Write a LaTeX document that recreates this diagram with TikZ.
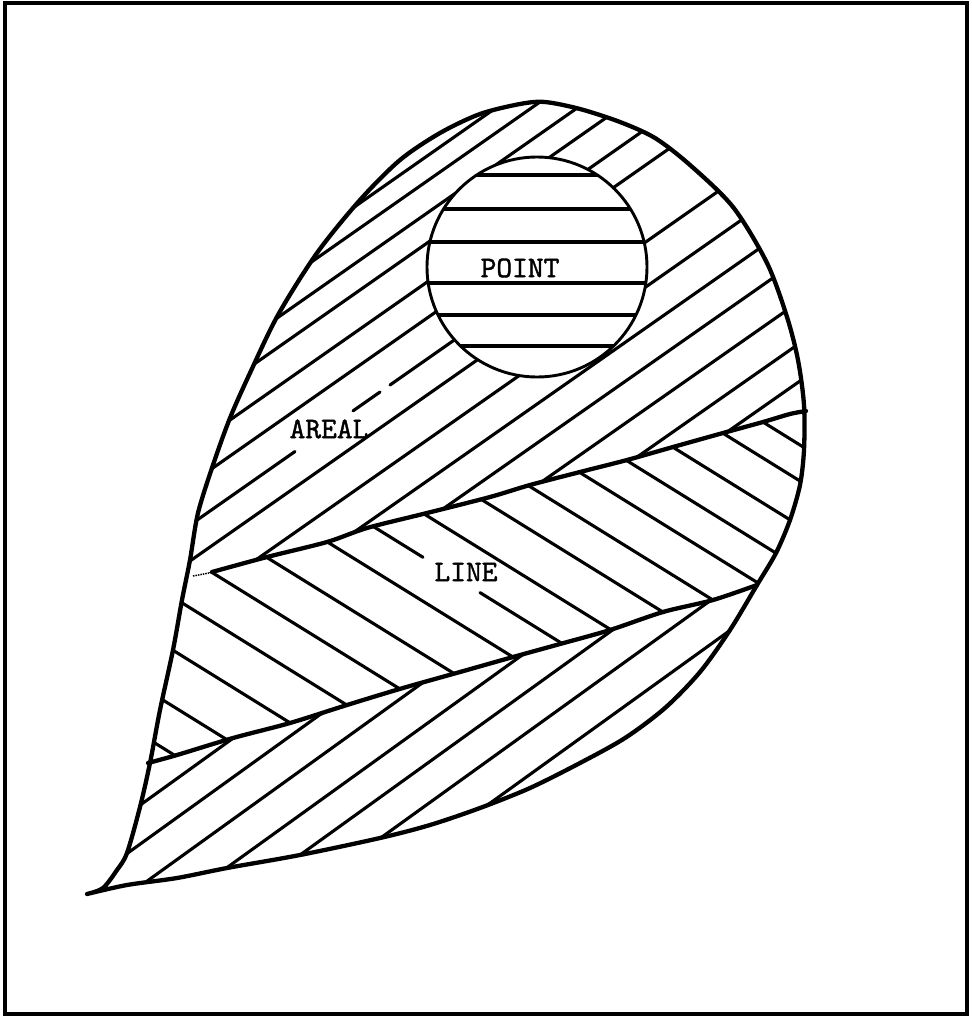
\documentclass[tikz,border=0pt]{standalone}
\usepackage{fontspec}
\newfontfamily\tw[FakeBold=1.3]{lmmono10-regular.otf}
\begin{document}
\begin{tikzpicture}[x=1pt,y=-1pt,
  hatch/.style={line width=3.1pt, line cap=round},
  edge/.style={line width=4.3pt, line join=round, line cap=round},
  frame/.style={line width=4.5pt},
  lbl/.style={font=\tw\fontsize{30}{30}\selectfont, inner sep=0pt}]
\useasboundingbox (0,0) rectangle (972,1018);
\draw[frame] (5,3) rectangle (967,1014);
% ---------- hatching ----------
\begin{scope}
\clip plot[smooth] coordinates {(87,894) (103,888) (117,870) (127,853) (140,807) (150,763) (160,710) (173,650) (182,600) (190,560) (198,513) (213,465) (230,418) (250,373) (278,315) (317,253) (360,200) (400,160) (440,133) (480,114) (520,104) (545,102) (580,109) (620,122) (655,138) (690,165) (733,207) (767,263) (787,317) (798,360) (804,405) (804,450) (800,485) (790,520) (776,553) (757,585) (730,630) (700,672) (665,708) (625,738) (580,763) (530,788) (480,808) (430,825) (380,838) (300,855) (227,868) (177,878) (127,885) (87,894)} -- cycle;
% upper areal region
\begin{scope}
\clip (0,578) -- plot[smooth] coordinates {(212,572) (267,557) (327,542) (367,528) (427,513) (490,497) (530,485) (580,472) (627,460) (673,447) (723,433) (763,422) (790,414) (806,411)} -- (972,405) -- (972,0) -- (0,0) -- cycle;
\foreach \c in {455,480,512,542,581,617,694,739,780,819,861,903,941,980}
  \draw[hatch] (0,\c) -- (972,{\c-680.4});
\draw[hatch] (150,553) -- (295,451.5);
\draw[hatch] (353,410.9) -- (380,392);
\draw[hatch] (390,385) -- (480,322);
\end{scope}
% line band
\begin{scope}
\clip (0,578) -- plot[smooth] coordinates {(212,572) (267,557) (327,542) (367,528) (427,513) (490,497) (530,485) (580,472) (627,460) (673,447) (723,433) (763,422) (790,414) (806,411)} -- (972,405) -- (972,585) -- plot[smooth] coordinates {(757,585) (713,600) (663,612) (610,630) (560,644) (513,657) (460,672) (403,688) (347,705) (290,723) (233,738) (177,755) (148,763)} -- (0,766) -- cycle;
\foreach \c in {647,599,543,490,441,392,339,251,201,158,113,72,30,-15,-51}
  \draw[hatch] (0,\c) -- (972,{\c+602.64});
\draw[hatch] (300,481) -- (423,557.3);
\draw[hatch] (480,592.6) -- (650,698);
\end{scope}
% lower areal region
\begin{scope}
\clip (0,766) -- plot[smooth] coordinates {(148,763) (177,755) (233,738) (290,723) (347,705) (403,688) (460,672) (513,657) (560,644) (610,630) (663,612) (713,600) (757,585)} -- (972,585) -- (972,1018) -- (0,1018) -- cycle;
\foreach \c in {906,945,987,1031,1071,1112,1156}
  \draw[hatch] (0,\c) -- (972,{\c-699.84});
\end{scope}
\end{scope}
% ---------- point circle ----------
\fill[white] (537,267) circle[radius=110pt];
\begin{scope}
\clip (537,267) circle[radius=110pt];
\foreach \y in {175,209,242,283,315,346}
  \draw[hatch] (420,\y) -- (660,\y);
\end{scope}
\draw[line width=2.9pt] (537,267) circle[radius=110pt];
% ---------- outlines ----------
\draw[edge] plot[smooth] coordinates {(87,894) (103,888) (117,870) (127,853) (140,807) (150,763) (160,710) (173,650) (182,600) (190,560) (198,513) (213,465) (230,418) (250,373) (278,315) (317,253) (360,200) (400,160) (440,133) (480,114) (520,104) (545,102) (580,109) (620,122) (655,138) (690,165) (733,207) (767,263) (787,317) (798,360) (804,405) (804,450) (800,485) (790,520) (776,553) (757,585) (730,630) (700,672) (665,708) (625,738) (580,763) (530,788) (480,808) (430,825) (380,838) (300,855) (227,868) (177,878) (127,885) (87,894)};
\draw[edge] plot[smooth] coordinates {(212,572) (267,557) (327,542) (367,528) (427,513) (490,497) (530,485) (580,472) (627,460) (673,447) (723,433) (763,422) (790,414) (806,411)};
\draw[edge] plot[smooth] coordinates {(148,763) (177,755) (233,738) (290,723) (347,705) (403,688) (460,672) (513,657) (560,644) (610,630) (663,612) (713,600) (757,585)};
\draw[line width=1.5pt, densely dotted] (193,576) -- (209,573);
% ---------- labels ----------
\node[lbl] (point) at (520,268) {POINT};
\node[lbl] (areal) at (329,429) {AREAL};
\node[lbl] (line) at (466,572) {LINE};
\end{tikzpicture}
\end{document}
